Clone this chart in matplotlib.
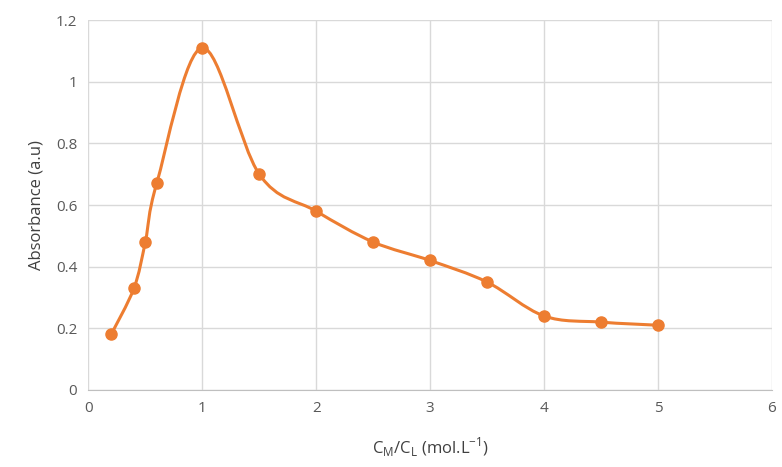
import numpy as np
import matplotlib
matplotlib.use("Agg")
import matplotlib.pyplot as plt
from matplotlib.path import Path
from matplotlib.patches import PathPatch

ratio = [0.2, 0.4, 0.5, 0.6, 1.0, 1.5, 2.0, 2.5, 3.0, 3.5, 4.0, 4.5, 5.0]
absorbance = [0.18, 0.33, 0.48, 0.67, 1.11, 0.70, 0.58, 0.48, 0.42, 0.35, 0.24, 0.22, 0.21]

plt.rcParams['font.family'] = ['Open Sans', 'DejaVu Sans']

fig = plt.figure(figsize=(7.82, 4.67), dpi=100)
ax = fig.add_axes([0.113, 0.165, 0.874, 0.792])

# Excel-style smoothed line: cubic Bezier with Catmull-Rom control points
pts = np.column_stack([ratio, absorbance])
verts = [pts[0]]
codes = [Path.MOVETO]
n = len(pts)
for i in range(n - 1):
    p0 = pts[i - 1] if i > 0 else pts[i]
    p1, p2 = pts[i], pts[i + 1]
    p3 = pts[i + 2] if i + 2 < n else pts[i + 1]
    c1 = p1 + (p2 - p0) / 6
    c2 = p2 - (p3 - p1) / 6
    verts += [c1, c2, p2]
    codes += [Path.CURVE4] * 3
ax.add_patch(PathPatch(Path(verts, codes), fill=False, edgecolor='#ED7D31', lw=2.2, zorder=3))
ax.plot(ratio, absorbance, 'o', color='#ED7D31', ms=8, zorder=4)

ax.set_xlim(0, 6)
ax.set_ylim(0, 1.2)
ax.set_xticks(range(0, 7))
ax.set_yticks([0, 0.2, 0.4, 0.6, 0.8, 1.0, 1.2])
ax.set_yticklabels(['0', '0.2', '0.4', '0.6', '0.8', '1', '1.2'])
ax.grid(True, color='#D9D9D9', lw=1)
ax.set_axisbelow(True)
for s in ['top', 'right', 'left']:
    ax.spines[s].set_visible(False)
ax.spines['bottom'].set_color('#BFBFBF')
ax.tick_params(length=0, colors='#595959', labelsize=11, pad=8)
ax.set_xlabel(r'C$_\mathregular{M}$/C$_\mathregular{L}$ (mol.L$^\mathregular{-1}$)', fontsize=12, color='#404040', labelpad=14)
ax.set_ylabel('Absorbance (a.u)', fontsize=12, color='#404040', labelpad=8)

fig.savefig('out.png', dpi=100)
